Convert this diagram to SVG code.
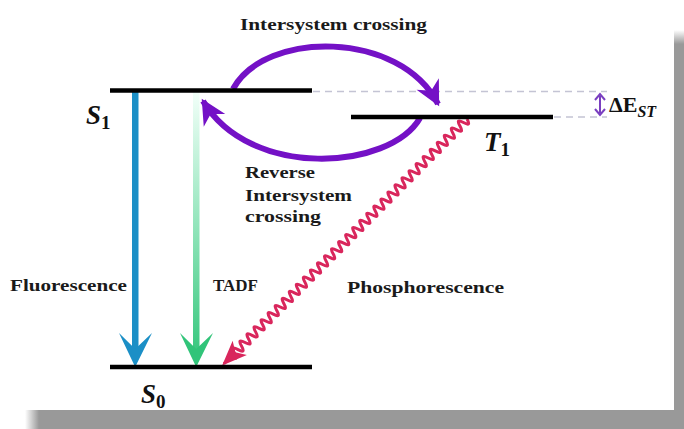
<svg xmlns="http://www.w3.org/2000/svg" width="684" height="429" viewBox="0 0 684 429">
<defs>
<style>
.lvl{stroke:#000;stroke-width:4.5;fill:none}
.dash{stroke:#c4c4d4;stroke-width:1.5;stroke-dasharray:7,5;fill:none}
.lbl{font-family:"Liberation Serif","DejaVu Serif",serif;font-weight:bold;font-size:16.5px;fill:#1a1a1a}
.st{font-family:"Liberation Serif","DejaVu Serif",serif;font-weight:bold;font-style:italic;fill:#111}
.arc{stroke:#7411c6;stroke-width:6;fill:none}
</style>
<linearGradient id="gTadf" gradientUnits="userSpaceOnUse" x1="0" y1="92" x2="0" y2="367">
<stop offset="0" stop-color="#f2fff9"/>
<stop offset="0.5" stop-color="#8fe4b9"/>
<stop offset="1" stop-color="#2fc478"/>
</linearGradient>
<linearGradient id="shR" x1="0" y1="0" x2="0" y2="1">
<stop offset="0" stop-color="#999" stop-opacity="0"/>
<stop offset="1" stop-color="#999"/>
</linearGradient>
<linearGradient id="shB" x1="0" y1="0" x2="1" y2="0">
<stop offset="0" stop-color="#999" stop-opacity="0"/>
<stop offset="1" stop-color="#999"/>
</linearGradient>
<marker id="mPurple" markerUnits="userSpaceOnUse" markerWidth="30" markerHeight="30" viewBox="-20 -12 24 24" refX="0" refY="0" orient="auto">
<path d="M2,0 L-18,-10 L-12,0 L-18,10 Z" fill="#7411c6"/>
</marker>
<marker id="mRed" markerUnits="userSpaceOnUse" markerWidth="30" markerHeight="30" viewBox="-20 -12 24 24" refX="0" refY="0" orient="auto">
<path d="M2,0 L-18,-8 L-13,0 L-18,8 Z" fill="#d9265c"/>
</marker>
</defs>
<rect x="0" y="0" width="684" height="429" fill="#fff"/>
<!-- shadow -->
<rect x="674" y="30" width="10" height="14" fill="url(#shR)"/>
<rect x="674" y="44" width="10" height="385" fill="#999"/>
<rect x="25" y="410" width="14" height="19" fill="url(#shB)"/>
<rect x="39" y="410" width="645" height="19" fill="#999"/>

<g id="connectors">
<path class="dash" d="M313,91.5 H607"/>
<path class="dash" d="M554,117 H607"/>
<g id="isc">
<path class="arc" d="M233,89 C265,30 400,30 438,104" marker-end="url(#mPurple)"/>
</g>
<g id="risc">
<path class="arc" d="M420,118 C390,170 250,180 203,101" marker-end="url(#mPurple)"/>
</g>
<g id="fluorescence-arrow">
<rect x="132" y="92" width="6.5" height="258" fill="#1b8fc6"/>
<path d="M135.2,367 L119,333 L135.2,349 L152,333 Z" fill="#1b8fc6"/>
</g>
<g id="tadf-arrow">
<rect x="193" y="92" width="6.5" height="258" fill="url(#gTadf)"/>
<path d="M196.2,367 L180,333 L196.2,349 L213,333 Z" fill="#31c479"/>
</g>
<g id="phosphorescence-arrow" transform="translate(467,119) rotate(134.8)">
<path d="M0,0 q2.5,-9 5,0 t5,0 t5,0 t5,0 t5,0 t5,0 t5,0 t5,0 t5,0 t5,0 t5,0 t5,0 t5,0 t5,0 t5,0 t5,0 t5,0 t5,0 t5,0 t5,0 t5,0 t5,0 t5,0 t5,0 t5,0 t5,0 t5,0 t5,0 t5,0 t5,0 t5,0 t5,0 t5,0 t5,0 t5,0 t5,0 t5,0 t5,0 t5,0 t5,0 t5,0 t5,0 t5,0 t5,0 t5,0 t5,0 t5,0 t5,0 t5,0 t5,0 t5,0 t5,0 t5,0 t5,0 t5,0 t5,0 t5,0 t5,0 t5,0 t5,0 t5,0 t5,0 t5,0 t5,0 t5,0 t5,0 t5,0 L345,0" fill="none" stroke="#d9265c" stroke-width="3" marker-end="url(#mRed)"/>
</g>
<g id="delta-arrow">
<path d="M600,96 V113" stroke="#7a3fc0" stroke-width="2" fill="none"/>
<path d="M595,100 L600,94 L605,100 M595,109 L600,115 L605,109" stroke="#7a3fc0" stroke-width="2" fill="none"/>
</g>
</g>

<g id="S1">
<path class="lvl" d="M110,90.5 H312"/>
<text class="st" x="86" y="124" font-size="27">S<tspan font-size="19" font-style="normal" dy="5">1</tspan></text>
</g>
<g id="T1">
<path class="lvl" d="M351,117 H553"/>
<text class="st" x="484" y="151" font-size="27">T<tspan font-size="19" font-style="normal" dy="5">1</tspan></text>
</g>
<g id="S0">
<path class="lvl" d="M110,367 H312"/>
<text class="st" x="141" y="403" font-size="27">S<tspan font-size="19" font-style="normal" dy="5">0</tspan></text>
</g>

<g id="labels">
<text class="lbl" x="240" y="30" textLength="187" lengthAdjust="spacingAndGlyphs">Intersystem crossing</text>
<text class="lbl" x="245" y="178" textLength="70" lengthAdjust="spacingAndGlyphs">Reverse</text>
<text class="lbl" x="245" y="201" textLength="107" lengthAdjust="spacingAndGlyphs">Intersystem</text>
<text class="lbl" x="245" y="222" textLength="76" lengthAdjust="spacingAndGlyphs">crossing</text>
<text class="lbl" x="10" y="291" textLength="117" lengthAdjust="spacingAndGlyphs">Fluorescence</text>
<text class="lbl" x="213" y="291" textLength="45" lengthAdjust="spacingAndGlyphs">TADF</text>
<text class="lbl" x="347" y="293" textLength="157" lengthAdjust="spacingAndGlyphs">Phosphorescence</text>
<text x="609" y="112" font-family="'Liberation Serif','DejaVu Serif',serif" font-weight="bold" font-size="22" fill="#111">ΔE<tspan font-size="16" font-style="italic" dy="5">ST</tspan></text>
</g>
</svg>
